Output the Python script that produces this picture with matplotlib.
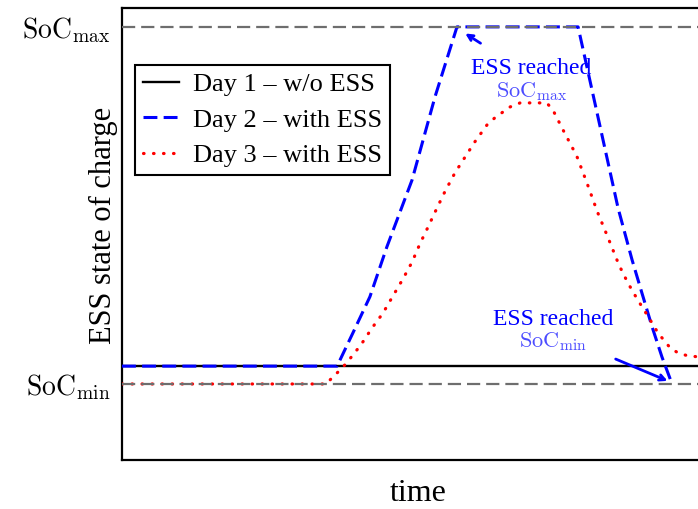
import matplotlib
matplotlib.use("Agg")
import matplotlib.pyplot as plt

plt.rcParams['font.family'] = 'serif'
plt.rcParams['font.serif'] = ['Liberation Serif', 'DejaVu Serif']
plt.rcParams['mathtext.fontset'] = 'cm'
plt.rcParams['lines.scale_dashes'] = False

# state of charge limits
soc_min = 0.2
soc_max = 0.9

# day 1 - without storage (flat)
t_day1 = [0, 24]
soc_day1 = [0.235, 0.235]

# day 2 - with storage, hits both limits
t_day2 = [0, 8.72, 9.36, 10.05, 10.74, 11.76, 12.69, 13.58, 18.49, 20.11, 20.68,
          21.08, 21.49, 21.89, 22.30]
soc_day2 = [0.235, 0.235, 0.300, 0.371, 0.469, 0.600, 0.763, 0.900, 0.900, 0.545,
            0.443, 0.378, 0.312, 0.253, 0.200]

# day 3 - with storage, stays inside limits
t_day3 = [0, 8.27, 8.64, 8.92, 9.20, 9.69, 10.14, 10.58, 10.99, 11.39, 11.76, 12.08,
          12.41, 12.77, 13.10, 13.50, 13.91, 14.31, 14.80, 15.12, 15.73, 16.14, 17.22,
          17.47, 17.88, 18.24, 18.45, 18.85, 19.26, 19.71, 20.15, 20.51, 20.88, 21.32,
          21.73, 22.22, 22.54, 22.95, 23.43, 24]
soc_day3 = [0.200, 0.200, 0.218, 0.231, 0.247, 0.277, 0.310, 0.339, 0.373, 0.406,
            0.439, 0.475, 0.508, 0.545, 0.578, 0.614, 0.645, 0.675, 0.708, 0.722,
            0.743, 0.751, 0.751, 0.737, 0.698, 0.665, 0.645, 0.594, 0.539, 0.486,
            0.433, 0.398, 0.367, 0.333, 0.300, 0.271, 0.261, 0.255, 0.253, 0.253]

fig = plt.figure(figsize=(6.98, 5.09), dpi=100)
ax = fig.add_axes([122/698, 49/509, 592/698, 452/509])

ax.axhline(soc_max, color='#6e6e6e', lw=1.6, dashes=(9.5, 4.3), zorder=4)
ax.axhline(soc_min, color='#6e6e6e', lw=1.6, dashes=(9.5, 4.3), zorder=4)

ax.plot(t_day1, soc_day1, color='black', lw=1.7, label='Day 1 – w/o ESS', zorder=2)
ax.plot(t_day2, soc_day2, color='blue', lw=2.2, dashes=(10, 4.5),
        label='Day 2 – with ESS', zorder=3)
ax.plot(t_day3, soc_day3, color='red', lw=2.3, dashes=(0.4, 6.8),
        dash_capstyle='round', label='Day 3 – with ESS', zorder=3)

# annotations
ax.text(16.58, 0.818, 'ESS reached', color='blue', fontsize=17, ha='center', va='center')
ax.text(16.62, 0.774, r'$\mathrm{SoC}_{\mathrm{max}}$', color='blue', alpha=0.7,
        fontsize=16, ha='center', va='center')
ax.annotate('', xy=(13.82, 0.890), xytext=(14.63, 0.865),
            arrowprops=dict(arrowstyle='->', color='blue', lw=2))

ax.text(17.47, 0.327, 'ESS reached', color='blue', fontsize=17, ha='center', va='center')
ax.text(17.47, 0.284, r'$\mathrm{SoC}_{\mathrm{min}}$', color='blue', alpha=0.7,
        fontsize=16, ha='center', va='center')
ax.annotate('', xy=(22.22, 0.204), xytext=(19.91, 0.251),
            arrowprops=dict(arrowstyle='->', color='blue', lw=2))

ax.set_xlim(0, 24)
ax.set_ylim(0.051, 0.937)
ax.set_xticks([])
ax.set_yticks([soc_min, soc_max])
ax.set_yticklabels([r'$\mathrm{SoC}_{\mathrm{min}}$', r'$\mathrm{SoC}_{\mathrm{max}}$'],
                   fontsize=20)
ax.tick_params(axis='y', length=0, pad=8)

ax.set_xlabel('time', fontsize=23, labelpad=14)
ax.set_ylabel('ESS state of charge', fontsize=22)
ax.yaxis.set_label_coords(-0.007, 0.518)

for sp in ax.spines.values():
    sp.set_linewidth(1.6)

leg = ax.legend(loc='upper left', bbox_to_anchor=(0.022, 0.874), borderaxespad=0,
                fontsize=19, frameon=True, fancybox=False, framealpha=1,
                edgecolor='black', borderpad=0.3, labelspacing=0.45,
                handlelength=1.35, handletextpad=0.55)
leg.get_frame().set_linewidth(1.5)

fig.savefig('out.png', dpi=100)
